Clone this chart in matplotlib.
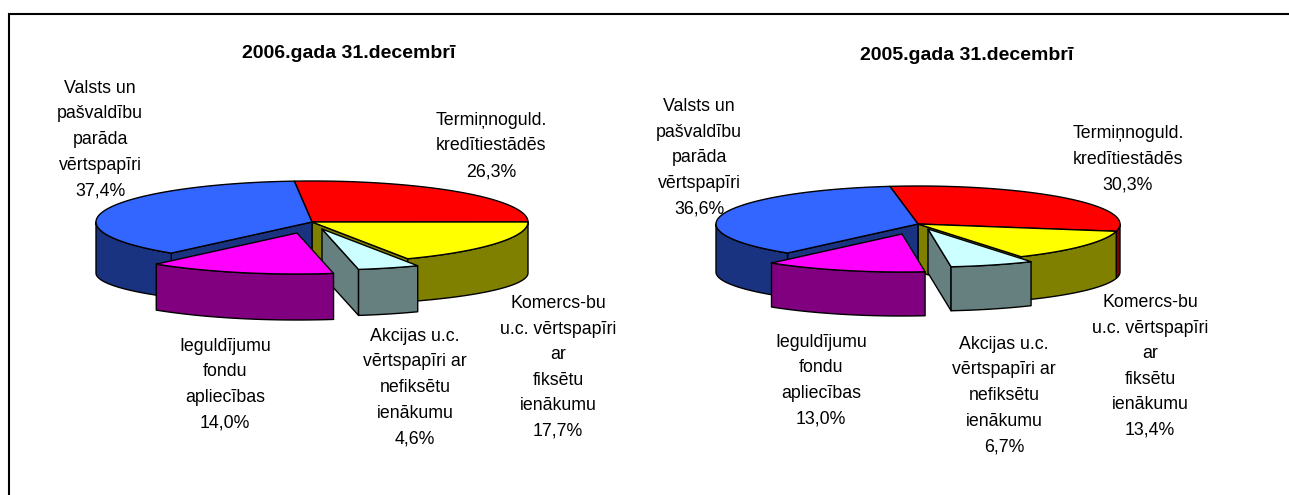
"""
Two exploded 3D-look pie charts of the portfolio structure, 2006 and 2005.
"""

import numpy as np
import matplotlib

matplotlib.use("Agg")
import matplotlib.pyplot as plt

plt.rcParams["font.family"] = ["Liberation Sans", "DejaVu Sans"]

# Slice data, clockwise from the red slice
names = [
    "Termiņnoguld.\nkredītiestādēs",
    "Komercs-bu\nu.c. vērtspapīri\nar\nfiksētu\nienākumu",
    "Akcijas u.c.\nvērtspapīri ar\nnefiksētu\nienākumu",
    "Ieguldījumu\nfondu\napliecības",
    "Valsts un\npašvaldību\nparāda\nvērtspapīri",
]
shares_2006 = [26.3, 17.7, 4.6, 14.0, 37.4]
shares_2005 = [30.3, 13.4, 6.7, 13.0, 36.6]
title_2006 = "2006.gada 31.decembrī"
title_2005 = "2005.gada 31.decembrī"

top_colors = ["#FF0000", "#FFFF00", "#CCFFFF", "#FF00FF", "#3366FF"]
wall_colors = ["#800000", "#808000", "#668080", "#800080", "#1A3380"]


def arc(cx, cy, rx, ry, t0, t1):
    t = np.radians(np.linspace(t0, t1, 80))
    return cx + rx * np.cos(t), cy - ry * np.sin(t)


def draw_pie(ax, shares, center, rx, ry, ry_low, depth, depth_out, start, offsets):
    """Draw the slices back to front, the exploded ones last."""
    sweep = np.array(shares) / sum(shares) * 360
    starts = start - np.concatenate([[0], np.cumsum(sweep)[:-1]])
    ends = starts - sweep
    n = len(shares)
    edge = {"edgecolor": "black", "linewidth": 1.0, "joinstyle": "round"}

    def walls(i):
        cx = center[0] + offsets[i][0]
        cy = center[1] + offsets[i][1]
        # the bottom rim looks flatter than the top one (perspective)
        if offsets[i] != (0, 0):
            d, low = depth_out, ry
        else:
            d, low = depth, ry_low
        s, e = starts[i], ends[i]
        # cut faces, only where the neighbour has moved away
        if offsets[i - 1] != offsets[i] and np.cos(np.radians(s)) < 0:
            x, y = arc(cx, cy, rx, ry, s, s)
            _, y2 = arc(cx, cy + d, rx, low, s, s)
            ax.fill([cx, x[0], x[0], cx], [cy, y[0], y2[0], cy + d],
                    facecolor=wall_colors[i], **edge)
        if offsets[(i + 1) % n] != offsets[i] and np.cos(np.radians(e)) > 0:
            x, y = arc(cx, cy, rx, ry, e, e)
            _, y2 = arc(cx, cy + d, rx, low, e, e)
            ax.fill([cx, x[0], x[0], cx], [cy, y[0], y2[0], cy + d],
                    facecolor=wall_colors[i], **edge)
        # outer wall on the lower half of the ellipse
        for shift in (0, -360):
            a, b = min(s + shift, 0), max(e + shift, -180)
            if a > b:
                x, y = arc(cx, cy, rx, ry, a, b)
                x2, y2 = arc(cx, cy + d, rx, low, b, a)
                ax.fill(np.r_[x, x2], np.r_[y, y2],
                        facecolor=wall_colors[i], **edge)

    def top(i):
        cx = center[0] + offsets[i][0]
        cy = center[1] + offsets[i][1]
        x, y = arc(cx, cy, rx, ry, starts[i], ends[i])
        ax.fill(np.r_[cx, x], np.r_[cy, y], facecolor=top_colors[i], **edge)

    still = [i for i in range(n) if offsets[i] == (0, 0)]
    moved = [i for i in range(n) if offsets[i] != (0, 0)]
    for i in still:
        walls(i)
    for i in still:
        top(i)
    for i in moved:
        walls(i)
        top(i)


def draw_labels(ax, shares, positions):
    for name, share, (x, y) in zip(names, shares, positions):
        pct = f"{share:.1f}".replace(".", ",") + "%"
        ax.text(x, y, f"{name}\n{pct}", ha="center", va="center",
                multialignment="center", fontsize=12.8, linespacing=1.66,
                color="black")


fig = plt.figure(figsize=(12.89, 4.95), dpi=100, facecolor="white")
ax = fig.add_axes([0, 0, 1, 1])
ax.set_xlim(0, 1289)
ax.set_ylim(495, 0)
ax.axis("off")

# the frame only shows on the left and top
ax.plot([9, 9, 1289], [495, 14, 14], color="black", linewidth=1.5,
        solid_joinstyle="miter")

draw_pie(ax, shares_2006, (312, 222), 216, 41, 32, 51, 46, 94.7,
         [(0, 0), (0, 0), (10, 7), (-15, 11), (0, 0)])
draw_labels(ax, shares_2006, [(491, 146), (558, 367.5), (415, 387.5), (225, 384.5), (100, 139.5)])
ax.text(349, 54, title_2006, ha="center", va="center", fontsize=14, fontweight="bold")

draw_pie(ax, shares_2005, (918, 224), 202, 38, 33, 48, 44, 98.0,
         [(0, 0), (0, 0), (10, 5), (-16, 10), (0, 0)])
draw_labels(ax, shares_2005, [(1128, 159), (1150, 366.5), (1004, 395.5), (821, 380.5), (699, 158)])
ax.text(967, 55, title_2005, ha="center", va="center", fontsize=14, fontweight="bold")

fig.savefig("out.png", dpi=100)
